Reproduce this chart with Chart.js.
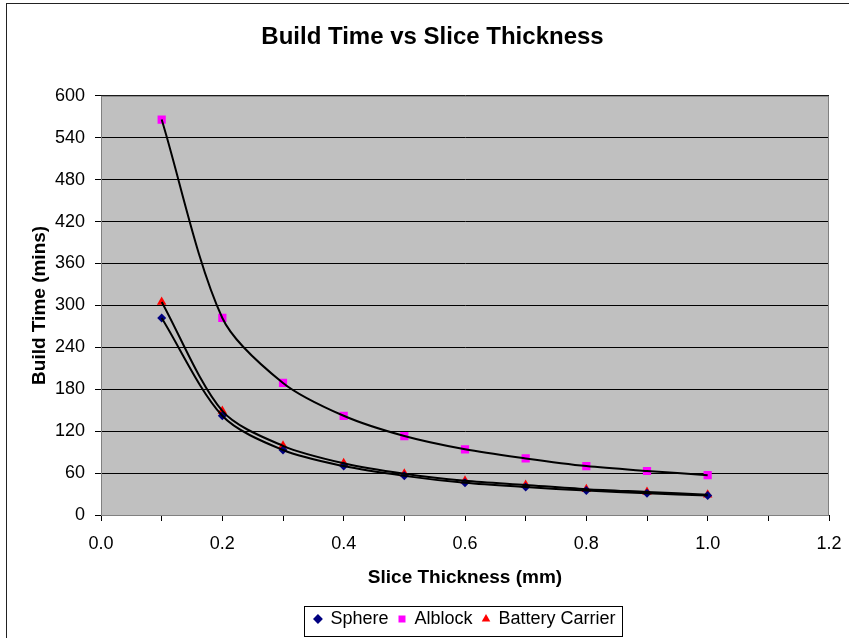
<!DOCTYPE html>
<html>
<head>
<meta charset="utf-8">
<script src="https://cdn.jsdelivr.net/npm/chart.js@4.4.0/dist/chart.umd.min.js"></script>
<style>
html, body { margin: 0; padding: 0; background: #fff; }
</style>
</head>
<body>
<canvas id="chart" width="849" height="638"></canvas>
<script>
"use strict";

// data
var thickness = [0.1, 0.2, 0.3, 0.4, 0.5, 0.6, 0.7, 0.8, 0.9, 1.0];
var sphere = [282, 142, 93, 70, 56, 46, 40, 35, 31, 28];
var alblock = [566, 282, 189, 142, 113, 94, 81, 70, 63, 57];
var battery = [305, 149, 99, 74, 59, 49, 43, 37, 33, 29];

function pts(ys) {
    return thickness.map(function (x, i) { return { x: x, y: ys[i] }; });
}

var FONT = "'Liberation Sans', Arial, sans-serif";

function marker(label, ys, color, style, r) {
    return {
        label: label,
        data: pts(ys),
        showLine: false,
        pointStyle: style,
        pointRadius: r,
        pointBackgroundColor: color,
        pointBorderColor: color,
        pointBorderWidth: 0,
        backgroundColor: color,
        borderColor: color,
        order: 1
    };
}

function trend(ys) {
    return {
        label: "trend",
        data: pts(ys),
        showLine: true,
        borderColor: "#000",
        borderWidth: 2,
        pointRadius: 0,
        tension: 0.3,
        order: 0
    };
}

// white page, frame, grey plot area, legend box
var frame = {
    id: "frame",
    beforeDraw: function (chart) {
        var c = chart.ctx, a = chart.chartArea;
        c.save();
        c.fillStyle = "#fff";
        c.fillRect(0, 0, chart.width, chart.height);
        c.fillStyle = "#c0c0c0";
        c.fillRect(a.left, a.top, a.right - a.left, a.bottom - a.top);
        c.restore();
    },
    afterDraw: function (chart) {
        var c = chart.ctx, a = chart.chartArea, lg = chart.legend;
        c.save();
        c.strokeStyle = "#808080";
        c.lineWidth = 1;
        c.strokeRect(a.left + 0.5, a.top + 0.5, a.right - a.left - 1, a.bottom - a.top);
        c.strokeStyle = "#222";
        c.strokeRect(6.5, 3.5, 1000, 1000);
        var hb = lg.legendHitBoxes;
        if (hb && hb.length) {
            var last = hb[hb.length - 1];
            var l = hb[0].left - 10, r = last.left + last.width + 7;
            var t = hb[0].top - 4, b = hb[0].top + hb[0].height + 8;
            c.strokeStyle = "#000";
            c.strokeRect(Math.round(l) + 0.5, Math.round(t) + 0.5, Math.round(r - l), Math.round(b - t));
        }
        c.restore();
    }
};

new Chart(document.getElementById("chart"), {
    type: "scatter",
    data: {
        datasets: [
            marker("Sphere", sphere, "#000080", "rectRot", 4.5),
            marker("Alblock", alblock, "#ff00ff", "rect", 5.8),
            marker("Battery Carrier", battery, "#ff0000", "triangle", 5.5),
            trend(sphere),
            trend(alblock),
            trend(battery)
        ]
    },
    options: {
        responsive: false,
        animation: false,
        layout: { padding: { left: 18, right: 2, top: 0, bottom: 0 } },
        plugins: {
            title: {
                display: true,
                text: "Build Time vs Slice Thickness",
                color: "#000",
                font: { family: FONT, size: 24, weight: "bold" },
                padding: { top: 23, bottom: 44 }
            },
            legend: {
                position: "bottom",
                fullSize: false,
                labels: {
                    filter: function (item) { return item.text !== "trend"; },
                    usePointStyle: true,
                    boxWidth: 7,
                    boxHeight: 7,
                    padding: 10,
                    color: "#000",
                    font: { family: FONT, size: 18 }
                }
            },
            tooltip: { enabled: false }
        },
        scales: {
            x: {
                type: "linear",
                min: 0,
                max: 1.2,
                afterFit: function (s) { s.height = 85; s.paddingRight = 20; },
                ticks: {
                    stepSize: 0.1,
                    autoSkip: false,
                    maxRotation: 0,
                    color: "#000",
                    font: { family: FONT, size: 18 },
                    padding: 12,
                    callback: function (v) {
                        return Math.round(v * 10) % 2 === 0 ? Number(v).toFixed(1) : "";
                    }
                },
                grid: { drawOnChartArea: false, drawTicks: true, tickLength: 6, color: "#000" },
                border: { color: "#000" },
                title: {
                    display: true,
                    text: "Slice Thickness (mm)",
                    color: "#000",
                    font: { family: FONT, size: 19, weight: "bold" },
                    padding: { top: 10, bottom: 11 }
                }
            },
            y: {
                min: 0,
                max: 600,
                afterFit: function (s) { s.width = 83; },
                ticks: {
                    stepSize: 60,
                    color: "#000",
                    font: { family: FONT, size: 18 },
                    padding: 10
                },
                grid: { color: "#000", tickLength: 6, drawTicks: true },
                border: { color: "#000" },
                title: {
                    display: true,
                    text: "Build Time (mins)",
                    color: "#000",
                    font: { family: FONT, size: 19, weight: "bold" },
                    padding: { top: 10, bottom: 0 }
                }
            }
        }
    },
    plugins: [frame]
});
</script>
</body>
</html>
